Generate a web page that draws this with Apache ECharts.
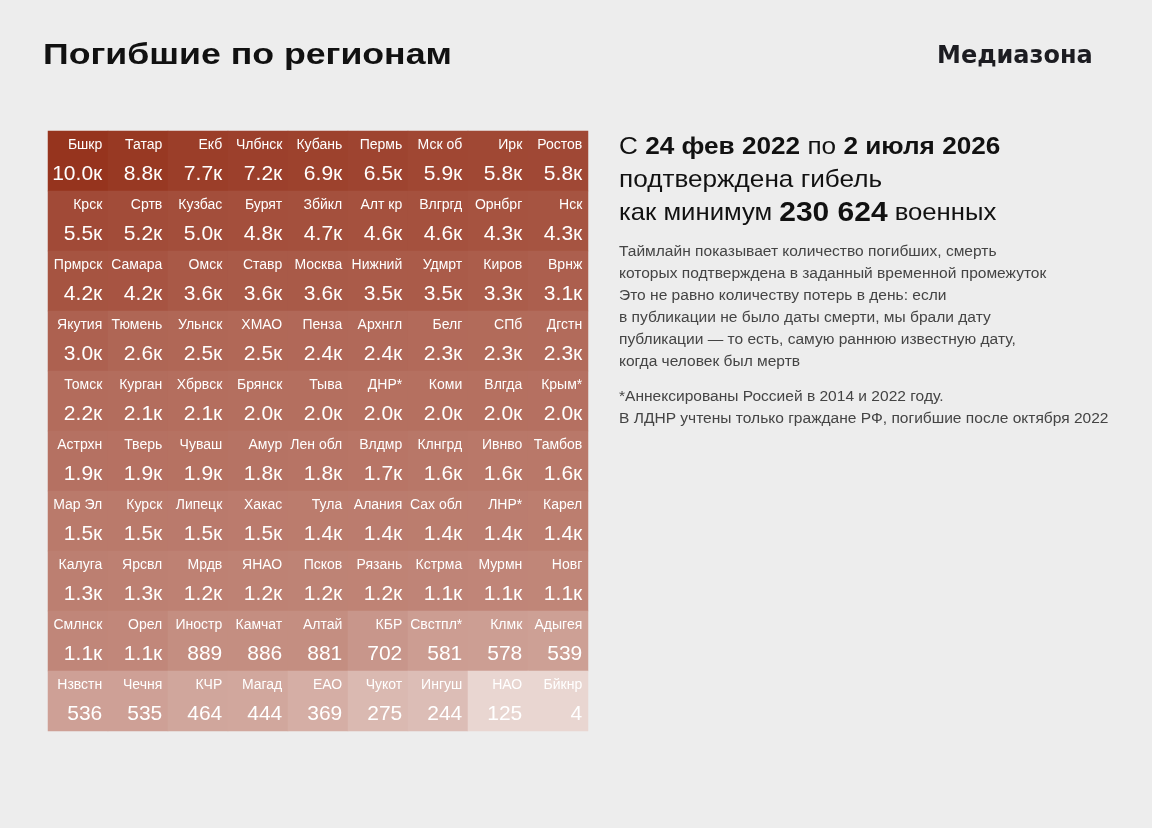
<!DOCTYPE html>
<html>
<head>
    <meta charset="utf-8">
    <title>Погибшие по регионам</title>
    <script src="https://cdn.jsdelivr.net/npm/echarts@6/dist/echarts.min.js"></script>
    <style>
        html, body { margin: 0; padding: 0; background: #ededed; }
    </style>
</head>
<body>
    <div id="main" style="width: 1152px;height:828px;"></div>
    <script type="text/javascript">
// регионы по строкам, 9 в ряд
var regions = [
    'Бшкр', 'Татар', 'Екб', 'Члбнск', 'Кубань', 'Пермь', 'Мск об', 'Ирк', 'Ростов',
    'Крск', 'Сртв', 'Кузбас', 'Бурят', 'Збйкл', 'Алт кр', 'Влгргд', 'Орнбрг', 'Нск',
    'Прмрск', 'Самара', 'Омск', 'Ставр', 'Москва', 'Нижний', 'Удмрт', 'Киров', 'Врнж',
    'Якутия', 'Тюмень', 'Ульнск', 'ХМАО', 'Пенза', 'Архнгл', 'Белг', 'СПб', 'Дгстн',
    'Томск', 'Курган', 'Хбрвск', 'Брянск', 'Тыва', 'ДНР*', 'Коми', 'Влгда', 'Крым*',
    'Астрхн', 'Тверь', 'Чуваш', 'Амур', 'Лен обл', 'Влдмр', 'Клнгрд', 'Ивнво', 'Тамбов',
    'Мар Эл', 'Курск', 'Липецк', 'Хакас', 'Тула', 'Алания', 'Сах обл', 'ЛНР*', 'Карел',
    'Калуга', 'Ярсвл', 'Мрдв', 'ЯНАО', 'Псков', 'Рязань', 'Кстрма', 'Мурмн', 'Новг',
    'Смлнск', 'Орел', 'Иностр', 'Камчат', 'Алтай', 'КБР', 'Свстпл*', 'Клмк', 'Адыгея',
    'Нзвстн', 'Чечня', 'КЧР', 'Магад', 'ЕАО', 'Чукот', 'Ингуш', 'НАО', 'Бйкнр'
];
var deaths = [
    10010, 8790, 7720, 7180, 6930, 6510, 5930, 5820, 5760,
    5470, 5210, 4980, 4810, 4720, 4620, 4580, 4330, 4270,
    4230, 4170, 3640, 3610, 3580, 3530, 3470, 3290, 3120,
    2980, 2620, 2530, 2470, 2430, 2370, 2320, 2280, 2260,
    2220, 2130, 2080, 2040, 2020, 1990, 1980, 1970, 1960,
    1920, 1900, 1880, 1820, 1780, 1710, 1640, 1610, 1580,
    1530, 1510, 1490, 1460, 1440, 1420, 1400, 1390, 1370,
    1330, 1270, 1240, 1220, 1200, 1180, 1140, 1120, 1100,
    1090, 1060, 889, 886, 881, 702, 581, 578, 539,
    536, 535, 464, 444, 369, 275, 244, 125, 4
];
var cols = 9;
var rows = 10;

var myChart = echarts.init(document.getElementById('main'));

function fmt(v) {
    return v >= 1000 ? (v / 1000).toFixed(1) + 'к' : String(v);
}

var cells = regions.map(function (name, i) {
    var v = deaths[i];
    return {
        name: name,
        value: [i % cols, Math.floor(i / cols), v, Math.max(Math.log10(Math.max(v, 1)), 2.1)]
    };
});

var xCats = [], yCats = [];
for (var i = 0; i < cols; i++) xCats.push(i);
for (var j = 0; j < rows; j++) yCats.push(j);

// текст справа немного шире обычного Arial
var wide = 1.09;
var textWide = 1.11;

var option = {
    backgroundColor: '#ededed',
    animation: false,
    grid: { left: 48, top: 131, width: 540, height: 600 },
    xAxis: { type: 'category', data: xCats, show: false },
    yAxis: { type: 'category', data: yCats, inverse: true, show: false },
    visualMap: {
        show: false,
        type: 'continuous',
        dimension: 3,
        min: 2.1,
        max: 4,
        inRange: { color: ['#e9d6d1', '#96341e'] }
    },
    series: [{
        type: 'heatmap',
        data: cells,
        emphasis: { disabled: true },
        label: {
            show: true,
            position: 'insideTopRight',
            distance: 6,
            align: 'right',
            formatter: function (p) {
                return '{n|' + p.name + '}\n{v|' + fmt(p.value[2]) + '}';
            },
            rich: {
                n: { fontFamily: 'Liberation Sans', fontSize: 14, color: '#fff', lineHeight: 17, align: 'right' },
                v: { fontFamily: 'Liberation Sans', fontSize: 21, color: '#fff', lineHeight: 40, align: 'right' }
            }
        }
    }],
    graphic: [
        { type: 'text', x: 43, y: 56, scaleX: 1.23, style: {
            text: 'Погибшие по регионам', font: 'bold 29px "Liberation Sans"', fill: '#111', verticalAlign: 'middle' } },
        { type: 'text', left: 937, top: 45, style: { text: 'Медиазона', font: 'bold 24px "DejaVu Sans"', fill: '#1c1c21' } },
        { type: 'text', x: 619, y: 147, scaleX: wide, style: {
            text: 'С {b|24 фев 2022} по {b|2 июля 2026}', font: '24px "Liberation Sans"', fill: '#111', verticalAlign: 'middle',
            rich: { b: { font: 'bold 24px "Liberation Sans"', fill: '#111' } } } },
        { type: 'text', x: 619, y: 180, scaleX: wide, style: {
            text: 'подтверждена гибель', font: '24px "Liberation Sans"', fill: '#111', verticalAlign: 'middle' } },
        { type: 'text', x: 619, y: 213, scaleX: 1.07, style: {
            text: 'как минимум {b|230 624} военных', font: '24px "Liberation Sans"', fill: '#111', verticalAlign: 'middle',
            rich: { b: { font: 'bold 28px "Liberation Sans"', fill: '#111' } } } },
        { type: 'text', x: 619, y: 241, scaleX: textWide, style: {
            text: 'Таймлайн показывает количество погибших, смерть\nкоторых подтверждена в заданный временной промежуток\nЭто не равно количеству потерь в день: если\nв публикации не было даты смерти, мы брали дату\nпубликации — то есть, самую раннюю известную дату,\nкогда человек был мертв',
            font: '14px "Liberation Sans"', fill: '#444', lineHeight: 22 } },
        { type: 'text', x: 619, y: 386, scaleX: textWide, style: {
            text: '*Аннексированы Россией в 2014 и 2022 году.\nВ ЛДНР учтены только граждане РФ, погибшие после октября 2022',
            font: '14px "Liberation Sans"', fill: '#444', lineHeight: 22 } }
    ]
};
myChart.setOption(option);
    </script>
</body>
</html>
